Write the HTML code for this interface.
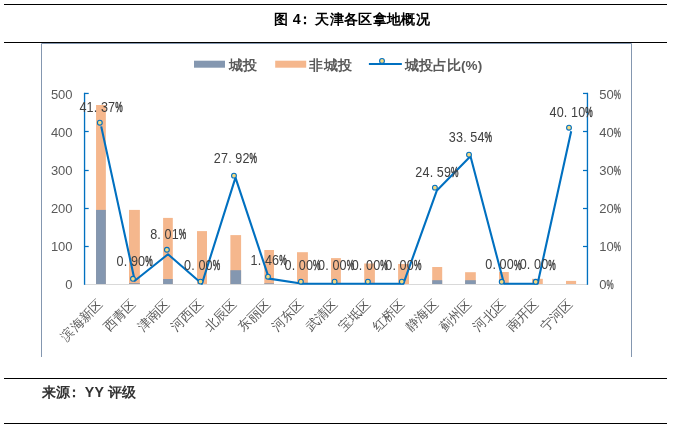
<!DOCTYPE html>
<html lang="zh"><head><meta charset="utf-8"><title>图 4：天津各区拿地概况</title>
<style>
html,body{margin:0;padding:0;background:#fff;}
body{width:674px;height:429px;position:relative;overflow:hidden;font-family:"Liberation Sans",sans-serif;}
.rule{position:absolute;left:4px;width:663px;height:1px;background:#000;}
.title{position:absolute;left:272.3px;top:8px;width:160px;height:22px;line-height:22px;font-size:14.3px;letter-spacing:0.34px;will-change:transform;font-weight:bold;color:#000;white-space:nowrap;text-align:center;}
.source{position:absolute;left:42px;top:381px;height:22px;line-height:22px;font-size:14.2px;letter-spacing:0.25px;will-change:transform;font-weight:bold;color:#333;white-space:nowrap;}
.colon{position:relative;}
svg{position:absolute;left:0;top:0;will-change:transform;}
svg text{font-family:"Liberation Sans",sans-serif;}
.ax{font-size:13px;fill:#595959;}
.dl{font-size:14px;fill:#404040;}
.cat{font-size:13px;fill:#595959;}
.lg{font-size:13.5px;letter-spacing:0.5px;font-weight:bold;fill:#595959;}
</style></head><body>
<div class="rule" style="top:4px"></div>
<div class="title">图 4<span class="colon" style="left:-3px">：</span>天津各区拿地概况</div>
<div class="rule" style="top:42px"></div>
<svg width="674" height="429" viewBox="0 0 674 429">
<path d="M41.5 357 V43.5 H631.5 V357" fill="none" stroke="#8497B0" stroke-width="1"/>
<rect x="194" y="60.7" width="31" height="7" fill="#8497B0"/>
<text class="lg" x="228.5" y="69.7">城投</text>
<rect x="275.2" y="60.7" width="31" height="7" fill="#F5B78D"/>
<text class="lg" x="309.2" y="69.7">非城投</text>
<line x1="368.9" y1="64" x2="401.85" y2="64" stroke="#0070C0" stroke-width="2.2"/>
<circle cx="382" cy="60.9" r="2.4" fill="#F3D982" stroke="#0070C0" stroke-width="1.1"/>
<text class="lg" x="404.6" y="69.7" style="letter-spacing:0.1px">城投占比(%)</text>
<rect x="96.05" y="105" width="9.80" height="179.00" fill="#F5B78D"/>
<rect x="96.05" y="209.9" width="9.80" height="74.10" fill="#8497B0"/>
<rect x="129.00" y="209.9" width="10.87" height="74.10" fill="#F5B78D"/>
<rect x="129.00" y="283.2" width="10.87" height="0.80" fill="#8497B0"/>
<rect x="163.10" y="217.9" width="9.70" height="66.10" fill="#F5B78D"/>
<rect x="163.10" y="279" width="9.70" height="5.00" fill="#8497B0"/>
<rect x="197.00" y="231.1" width="10.00" height="52.90" fill="#F5B78D"/>
<rect x="230.40" y="235.1" width="10.70" height="48.90" fill="#F5B78D"/>
<rect x="230.40" y="270.2" width="10.70" height="13.80" fill="#8497B0"/>
<rect x="264.30" y="250" width="9.70" height="34.00" fill="#F5B78D"/>
<rect x="264.30" y="283.3" width="9.70" height="0.70" fill="#8497B0"/>
<rect x="297.00" y="252.2" width="10.90" height="31.80" fill="#F5B78D"/>
<rect x="331.00" y="258.1" width="9.90" height="25.90" fill="#F5B78D"/>
<rect x="364.20" y="263.5" width="10.70" height="20.50" fill="#F5B78D"/>
<rect x="398.10" y="264" width="10.90" height="20.00" fill="#F5B78D"/>
<rect x="432.20" y="267" width="10.00" height="17.00" fill="#F5B78D"/>
<rect x="432.20" y="280.2" width="10.00" height="3.80" fill="#8497B0"/>
<rect x="465.10" y="272.2" width="10.70" height="11.80" fill="#F5B78D"/>
<rect x="465.10" y="280.2" width="10.70" height="3.80" fill="#8497B0"/>
<rect x="499.00" y="272" width="9.80" height="12.00" fill="#F5B78D"/>
<rect x="532.00" y="278.8" width="10.80" height="5.20" fill="#F5B78D"/>
<rect x="566.00" y="280.9" width="10.10" height="3.10" fill="#F5B78D"/>
<line x1="84.15" y1="284.5" x2="587.75" y2="284.5" stroke="#D9D9D9" stroke-width="1"/>
<line x1="84.55" y1="92.85" x2="84.55" y2="284.8" stroke="#0070C0" stroke-width="1.35"/>
<line x1="587.45" y1="92.85" x2="587.45" y2="284.8" stroke="#0070C0" stroke-width="1.35"/>
<line x1="84" y1="93.45" x2="88.7" y2="93.45" stroke="#0070C0" stroke-width="1.25"/>
<line x1="583" y1="93.45" x2="588" y2="93.45" stroke="#0070C0" stroke-width="1.25"/>
<text class="ax" x="72.6" y="99.00" text-anchor="end">500</text>
<text class="ax" x="599.2" y="99.00">50</text><text class="ax" transform="translate(613.66 99.00) scale(0.62 1)" stroke="#595959" stroke-width="0.4">%</text>
<line x1="84" y1="131.50" x2="88.7" y2="131.50" stroke="#0070C0" stroke-width="1.25"/>
<line x1="583" y1="131.50" x2="588" y2="131.50" stroke="#0070C0" stroke-width="1.25"/>
<text class="ax" x="72.6" y="136.90" text-anchor="end">400</text>
<text class="ax" x="599.2" y="136.90">40</text><text class="ax" transform="translate(613.66 136.90) scale(0.62 1)" stroke="#595959" stroke-width="0.4">%</text>
<line x1="84" y1="170.50" x2="88.7" y2="170.50" stroke="#0070C0" stroke-width="1.25"/>
<line x1="583" y1="170.50" x2="588" y2="170.50" stroke="#0070C0" stroke-width="1.25"/>
<text class="ax" x="72.6" y="174.90" text-anchor="end">300</text>
<text class="ax" x="599.2" y="174.90">30</text><text class="ax" transform="translate(613.66 174.90) scale(0.62 1)" stroke="#595959" stroke-width="0.4">%</text>
<line x1="84" y1="208.50" x2="88.7" y2="208.50" stroke="#0070C0" stroke-width="1.25"/>
<line x1="583" y1="208.50" x2="588" y2="208.50" stroke="#0070C0" stroke-width="1.25"/>
<text class="ax" x="72.6" y="212.90" text-anchor="end">200</text>
<text class="ax" x="599.2" y="212.90">20</text><text class="ax" transform="translate(613.66 212.90) scale(0.62 1)" stroke="#595959" stroke-width="0.4">%</text>
<line x1="84" y1="246.50" x2="88.7" y2="246.50" stroke="#0070C0" stroke-width="1.25"/>
<line x1="583" y1="246.50" x2="588" y2="246.50" stroke="#0070C0" stroke-width="1.25"/>
<text class="ax" x="72.6" y="250.90" text-anchor="end">100</text>
<text class="ax" x="599.2" y="250.90">10</text><text class="ax" transform="translate(613.66 250.90) scale(0.62 1)" stroke="#595959" stroke-width="0.4">%</text>
<text class="ax" x="72.6" y="288.80" text-anchor="end">0</text>
<text class="ax" x="599.2" y="288.80">0</text><text class="ax" transform="translate(606.43 288.80) scale(0.62 1)" stroke="#595959" stroke-width="0.4">%</text>
<polyline points="101.20,126.37 134.77,280.77 168.00,254.30 201.91,283.80 235.48,177.69 269.05,278.63 302.62,283.80 336.19,283.80 369.76,283.80 403.33,283.80 436.90,190.39 470.47,156.24 504.04,283.80 537.61,283.80 571.18,131.22" fill="none" stroke="#0070C0" stroke-width="2.1" stroke-linejoin="round"/>
<circle cx="99.83" cy="122.7" r="2.4" fill="#F3D982" stroke="#0070C0" stroke-width="1.1"/>
<circle cx="132.96" cy="278.8" r="2.4" fill="#F3D982" stroke="#0070C0" stroke-width="1.1"/>
<circle cx="166.9" cy="249.76" r="2.4" fill="#F3D982" stroke="#0070C0" stroke-width="1.1"/>
<circle cx="200.5" cy="281.6" r="2.4" fill="#F3D982" stroke="#0070C0" stroke-width="1.1"/>
<circle cx="233.97" cy="175.67" r="2.4" fill="#F3D982" stroke="#0070C0" stroke-width="1.1"/>
<circle cx="268.0" cy="276.7" r="2.4" fill="#F3D982" stroke="#0070C0" stroke-width="1.1"/>
<circle cx="300.9" cy="281.7" r="2.4" fill="#F3D982" stroke="#0070C0" stroke-width="1.1"/>
<circle cx="334.6" cy="281.7" r="2.4" fill="#F3D982" stroke="#0070C0" stroke-width="1.1"/>
<circle cx="367.9" cy="281.6" r="2.4" fill="#F3D982" stroke="#0070C0" stroke-width="1.1"/>
<circle cx="401.8" cy="281.6" r="2.4" fill="#F3D982" stroke="#0070C0" stroke-width="1.1"/>
<circle cx="434.9" cy="187.65" r="2.4" fill="#F3D982" stroke="#0070C0" stroke-width="1.1"/>
<circle cx="469.0" cy="154.7" r="2.4" fill="#F3D982" stroke="#0070C0" stroke-width="1.1"/>
<circle cx="501.7" cy="281.8" r="2.4" fill="#F3D982" stroke="#0070C0" stroke-width="1.1"/>
<circle cx="535.7" cy="281.8" r="2.4" fill="#F3D982" stroke="#0070C0" stroke-width="1.1"/>
<circle cx="569.0" cy="127.7" r="2.4" fill="#F3D982" stroke="#0070C0" stroke-width="1.1"/>
<text class="dl" transform="scale(0.9 1)" x="88.28 96.22 104.17 112.11 120.06" y="112.0">41.37</text><text class="dl" transform="translate(115.20 112.0) scale(0.6 1)" stroke="#404040" stroke-width="0.5">%</text>
<text class="dl" transform="scale(0.9 1)" x="129.58 137.53 145.47 153.42" y="266.3">0.90</text><text class="dl" transform="translate(145.22 266.3) scale(0.6 1)" stroke="#404040" stroke-width="0.5">%</text>
<text class="dl" transform="scale(0.9 1)" x="166.92 174.86 182.81 190.75" y="239.1">8.01</text><text class="dl" transform="translate(178.82 239.1) scale(0.6 1)" stroke="#404040" stroke-width="0.5">%</text>
<text class="dl" transform="scale(0.9 1)" x="204.58 212.53 220.47 228.42" y="269.6">0.00</text><text class="dl" transform="translate(212.72 269.6) scale(0.6 1)" stroke="#404040" stroke-width="0.5">%</text>
<text class="dl" transform="scale(0.9 1)" x="237.61 245.56 253.50 261.44 269.39" y="163.1">27.92</text><text class="dl" transform="translate(249.60 163.1) scale(0.6 1)" stroke="#404040" stroke-width="0.5">%</text>
<text class="dl" transform="scale(0.9 1)" x="278.47 286.42 294.36 302.31" y="264.7">1.46</text><text class="dl" transform="translate(279.23 264.7) scale(0.6 1)" stroke="#404040" stroke-width="0.5">%</text>
<text class="dl" transform="scale(0.9 1)" x="316.14 324.08 332.03 339.97" y="269.6">0.00</text><text class="dl" transform="translate(313.12 269.6) scale(0.6 1)" stroke="#404040" stroke-width="0.5">%</text>
<text class="dl" transform="scale(0.9 1)" x="353.47 361.42 369.36 377.31" y="269.6">0.00</text><text class="dl" transform="translate(346.73 269.6) scale(0.6 1)" stroke="#404040" stroke-width="0.5">%</text>
<text class="dl" transform="scale(0.9 1)" x="390.81 398.75 406.69 414.64" y="269.6">0.00</text><text class="dl" transform="translate(380.33 269.6) scale(0.6 1)" stroke="#404040" stroke-width="0.5">%</text>
<text class="dl" transform="scale(0.9 1)" x="428.14 436.08 444.03 451.97" y="269.6">0.00</text><text class="dl" transform="translate(413.93 269.6) scale(0.6 1)" stroke="#404040" stroke-width="0.5">%</text>
<text class="dl" transform="scale(0.9 1)" x="461.50 469.44 477.39 485.33 493.28" y="176.6">24.59</text><text class="dl" transform="translate(451.10 176.6) scale(0.6 1)" stroke="#404040" stroke-width="0.5">%</text>
<text class="dl" transform="scale(0.9 1)" x="498.72 506.67 514.61 522.56 530.50" y="142.3">33.54</text><text class="dl" transform="translate(484.60 142.3) scale(0.6 1)" stroke="#404040" stroke-width="0.5">%</text>
<text class="dl" transform="scale(0.9 1)" x="539.25 547.19 555.14 563.08" y="269.5">0.00</text><text class="dl" transform="translate(513.92 269.5) scale(0.6 1)" stroke="#404040" stroke-width="0.5">%</text>
<text class="dl" transform="scale(0.9 1)" x="577.47 585.42 593.36 601.31" y="269.5">0.00</text><text class="dl" transform="translate(548.33 269.5) scale(0.6 1)" stroke="#404040" stroke-width="0.5">%</text>
<text class="dl" transform="scale(0.9 1)" x="610.61 618.56 626.50 634.44 642.39" y="117.4">40.10</text><text class="dl" transform="translate(585.30 117.4) scale(0.6 1)" stroke="#404040" stroke-width="0.5">%</text>
<text class="cat" transform="translate(103.10 304.8) rotate(-45)" text-anchor="end">滨海新区</text>
<text class="cat" transform="translate(136.67 304.8) rotate(-45)" text-anchor="end">西青区</text>
<text class="cat" transform="translate(170.24 304.8) rotate(-45)" text-anchor="end">津南区</text>
<text class="cat" transform="translate(203.81 304.8) rotate(-45)" text-anchor="end">河西区</text>
<text class="cat" transform="translate(237.38 304.8) rotate(-45)" text-anchor="end">北辰区</text>
<text class="cat" transform="translate(270.95 304.8) rotate(-45)" text-anchor="end">东丽区</text>
<text class="cat" transform="translate(304.52 304.8) rotate(-45)" text-anchor="end">河东区</text>
<text class="cat" transform="translate(338.09 304.8) rotate(-45)" text-anchor="end">武清区</text>
<text class="cat" transform="translate(371.66 304.8) rotate(-45)" text-anchor="end">宝坻区</text>
<text class="cat" transform="translate(405.23 304.8) rotate(-45)" text-anchor="end">红桥区</text>
<text class="cat" transform="translate(438.80 304.8) rotate(-45)" text-anchor="end">静海区</text>
<text class="cat" transform="translate(472.37 304.8) rotate(-45)" text-anchor="end">蓟州区</text>
<text class="cat" transform="translate(505.94 304.8) rotate(-45)" text-anchor="end">河北区</text>
<text class="cat" transform="translate(539.51 304.8) rotate(-45)" text-anchor="end">南开区</text>
<text class="cat" transform="translate(573.08 304.8) rotate(-45)" text-anchor="end">宁河区</text>
</svg>
<div class="rule" style="top:378px"></div>
<div class="source">来源<span class="colon" style="left:-4px">：</span>YY 评级</div>
<div class="rule" style="top:423px"></div>
</body></html>
